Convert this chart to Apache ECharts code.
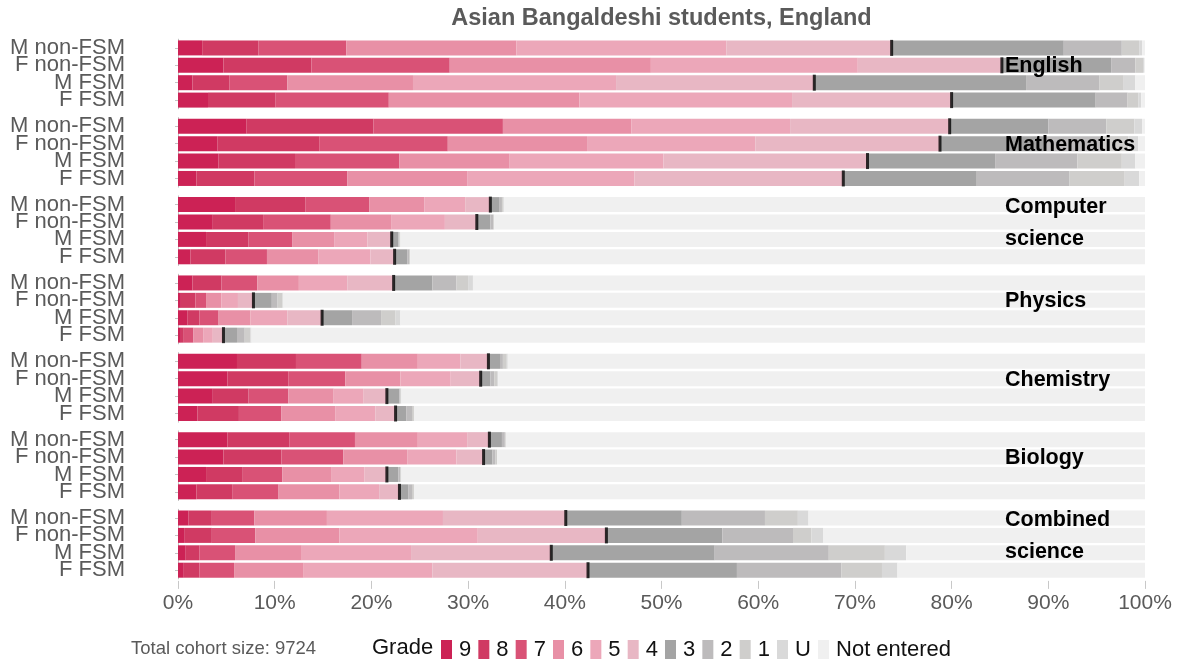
<!DOCTYPE html>
<html>
<head>
<meta charset="utf-8">
<script src="https://cdn.jsdelivr.net/npm/echarts@6/dist/echarts.min.js"></script>
<style>html,body{margin:0;padding:0;background:#fff;}#c{width:1181px;height:664px;}</style>
</head>
<body>
<div id="c"></div>
<script>
// ---- data (percent of cohort, per grade: 9,8,7,6,5,4,3,2,1,U,Not entered) ----
const grades = ['9','8','7','6','5','4','3','2','1','U','Not entered'];
const groups = ['M non-FSM','F non-FSM','M FSM','F FSM'];
const subjects = ['English','Mathematics','Computer\nscience','Physics','Chemistry','Biology','Combined\nscience'];
const xTicks = [0,10,20,30,40,50,60,70,80,90,100];
const cohortSize = 9724;

const english = [
  [2.5, 5.8, 9.1, 17.6, 21.7, 17.1, 17.8, 6.0, 1.8, 0.3, 0.3],
  [4.7, 9.1, 14.3, 20.8, 21.4, 14.9, 11.3, 2.5, 0.8, 0.1, 0.1],
  [1.5, 3.8, 6.0, 13.0, 21.0, 20.5, 21.9, 7.6, 2.5, 1.2, 1.0],
  [3.1, 7.0, 11.7, 19.7, 22.0, 16.5, 14.9, 3.3, 1.1, 0.3, 0.4]
];
const mathematics = [
  [7.1, 13.1, 13.4, 13.3, 16.4, 16.5, 10.2, 6.0, 2.9, 0.8, 0.3],
  [4.1, 10.5, 13.3, 14.4, 17.4, 19.1, 10.7, 6.0, 2.8, 1.0, 0.7],
  [4.2, 7.9, 10.8, 11.4, 15.9, 21.1, 13.2, 8.5, 4.6, 1.4, 1.0],
  [1.9, 6.0, 9.6, 12.4, 17.3, 21.6, 13.8, 9.6, 5.7, 1.5, 0.6]
];
const computerScience = [
  [5.9, 7.3, 6.6, 5.7, 4.2, 2.6, 0.9, 0.3, 0.1, 0.1, 66.3],
  [3.6, 5.2, 7.0, 6.3, 5.5, 3.3, 1.4, 0.3, 0.1, 0.0, 67.3],
  [2.9, 4.4, 4.5, 4.4, 3.4, 2.5, 0.7, 0.1, 0.1, 0.0, 77.0],
  [1.3, 3.6, 4.3, 5.3, 5.4, 2.5, 1.3, 0.2, 0.1, 0.0, 76.0]
];
const physics = [
  [1.5, 3.0, 3.7, 4.3, 5.0, 4.8, 4.0, 2.5, 1.2, 0.5, 69.5],
  [0.3, 1.5, 1.1, 1.6, 1.7, 1.6, 1.9, 0.6, 0.5, 0.1, 89.1],
  [1.0, 1.2, 2.0, 3.3, 3.8, 3.6, 3.1, 3.0, 1.5, 0.5, 77.0],
  [0.3, 0.3, 1.0, 1.0, 1.0, 1.1, 1.4, 0.8, 0.6, 0.1, 92.4]
];
const chemistry = [
  [6.1, 6.1, 6.8, 5.8, 4.4, 2.9, 1.2, 0.3, 0.4, 0.1, 65.9],
  [5.1, 6.3, 5.9, 5.7, 5.2, 3.1, 1.0, 0.4, 0.3, 0.1, 66.9],
  [3.6, 3.7, 4.1, 4.7, 3.1, 2.4, 1.3, 0.1, 0.1, 0.0, 76.9],
  [2.0, 4.3, 4.4, 5.6, 4.1, 2.1, 1.1, 0.6, 0.2, 0.0, 75.7]
];
const biology = [
  [5.1, 6.4, 6.8, 6.5, 5.1, 2.3, 1.3, 0.3, 0.1, 0.0, 66.1],
  [4.7, 6.0, 6.4, 6.6, 5.1, 2.8, 0.9, 0.3, 0.2, 0.0, 67.0],
  [2.9, 3.8, 4.1, 5.1, 3.4, 2.3, 1.2, 0.2, 0.1, 0.0, 76.9],
  [1.9, 3.7, 4.8, 6.3, 4.1, 2.1, 0.9, 0.4, 0.2, 0.0, 75.6]
];
const combinedScience = [
  [1.1, 2.4, 4.4, 7.5, 12.0, 12.7, 12.0, 8.6, 3.4, 1.1, 34.8],
  [0.7, 2.8, 4.5, 8.7, 14.3, 13.3, 12.0, 7.3, 1.9, 1.2, 33.3],
  [0.8, 1.4, 3.7, 6.9, 11.3, 14.5, 16.9, 11.8, 5.8, 2.2, 24.7],
  [0.6, 1.6, 3.6, 7.2, 13.3, 16.1, 15.4, 10.8, 4.2, 1.6, 25.6]
];

// ---- styling ----
const subjectData = [english, mathematics, computerScience, physics, chemistry, biology, combinedScience];
const gradeColors = ['#cc2255','#d03a63','#d95276','#e890a6','#eca7b9','#e8b7c4',
                     '#a4a4a4','#bdbbbc','#cfcecc','#d9d9d9','#f0f0f0'];
const FONT = 'Liberation Sans, Arial, sans-serif';
const plotLeft = 178, plotRight = 1145;
const firstTop = 39.2, groupStep = 78.35, gridH = 69.6, band = gridH / 4;

const grids = [], xAxes = [], yAxes = [], series = [], graphics = [];
subjectData.forEach((rows, k) => {
  const top = firstTop + groupStep * k;
  grids.push({left: plotLeft, width: plotRight - plotLeft, top: top, height: gridH});
  const last = k === subjectData.length - 1;
  xAxes.push({
    gridIndex: k, type: 'value', min: 0, max: 100, interval: 10, show: last, offset: 2,
    axisLine: {show: false},
    axisTick: {show: true, length: 8, lineStyle: {color: '#c8c8c8', width: 1}},
    axisLabel: {show: true, formatter: '{value}%', fontSize: 21, color: '#5a5a5a', margin: 12, fontFamily: FONT},
    splitLine: {show: false}
  });
  yAxes.push({
    gridIndex: k, type: 'category', data: groups, inverse: true, offset: 49,
    axisLine: {show: true, lineStyle: {color: '#c4c4c4', width: 1}},
    axisTick: {show: true, alignWithLabel: true, length: 3, lineStyle: {color: '#c4c4c4'}},
    axisLabel: {interval: 0, fontSize: 22, color: '#5a5a5a', margin: 4, fontFamily: FONT},
    splitLine: {show: false}
  });
  grades.forEach((g, gi) => {
    series.push({
      type: 'bar', name: g, stack: 'st' + k, xAxisIndex: k, yAxisIndex: k,
      barWidth: 15, data: rows.map(r => r[gi]),
      itemStyle: {color: gradeColors[gi]}, silent: true
    });
  });
  series.push({
    type: 'scatter', name: 'pass' + k, xAxisIndex: k, yAxisIndex: k,
    symbol: 'rect', symbolSize: [3, 16], z: 5,
    itemStyle: {color: '#000'},
    data: rows.map((r, i) => [r.slice(0, 6).reduce((a, b) => a + b, 0), i])
  });
  const two = subjects[k].indexOf('\n') >= 0;
  graphics.push({
    type: 'text', x: 1005, y: top + band * 1.5 + 1, z: 10,
    style: {text: subjects[k], font: 'bold 21.5px ' + FONT, fill: '#000',
            textAlign: 'left', textVerticalAlign: 'middle',
            lineHeight: two ? 32 : 23}
  });
});

graphics.push({type: 'text', x: 661.5, y: 19, z: 10,
  style: {text: 'Asian Bangaldeshi students, England', font: 'bold 23.5px ' + FONT, fill: '#5a5a5a',
          textAlign: 'center', textVerticalAlign: 'middle'}});
graphics.push({type: 'text', x: 131, y: 649, z: 10,
  style: {text: 'Total cohort size: ' + cohortSize, font: '18.5px ' + FONT, fill: '#5a5a5a',
          textAlign: 'left', textVerticalAlign: 'middle'}});
graphics.push({type: 'text', x: 372, y: 648, z: 10,
  style: {text: 'Grade', font: '22px ' + FONT, fill: '#111',
          textAlign: 'left', textVerticalAlign: 'middle'}});

const chart = echarts.init(document.getElementById('c'), null, {renderer: 'canvas'});
chart.setOption({
  animation: false,
  backgroundColor: '#fff',
  grid: grids, xAxis: xAxes, yAxis: yAxes, series: series,
  legend: {
    data: grades, left: 441, top: 638.5, orient: 'horizontal', padding: 0,
    icon: 'rect', itemWidth: 11, itemHeight: 19, itemGap: 7.1,
    selectedMode: false,
    textStyle: {fontSize: 22, lineHeight: 19, color: '#111', fontFamily: FONT, padding: [0, 0, 0, 2]}
  },
  graphic: graphics
});
</script>
</body>
</html>
